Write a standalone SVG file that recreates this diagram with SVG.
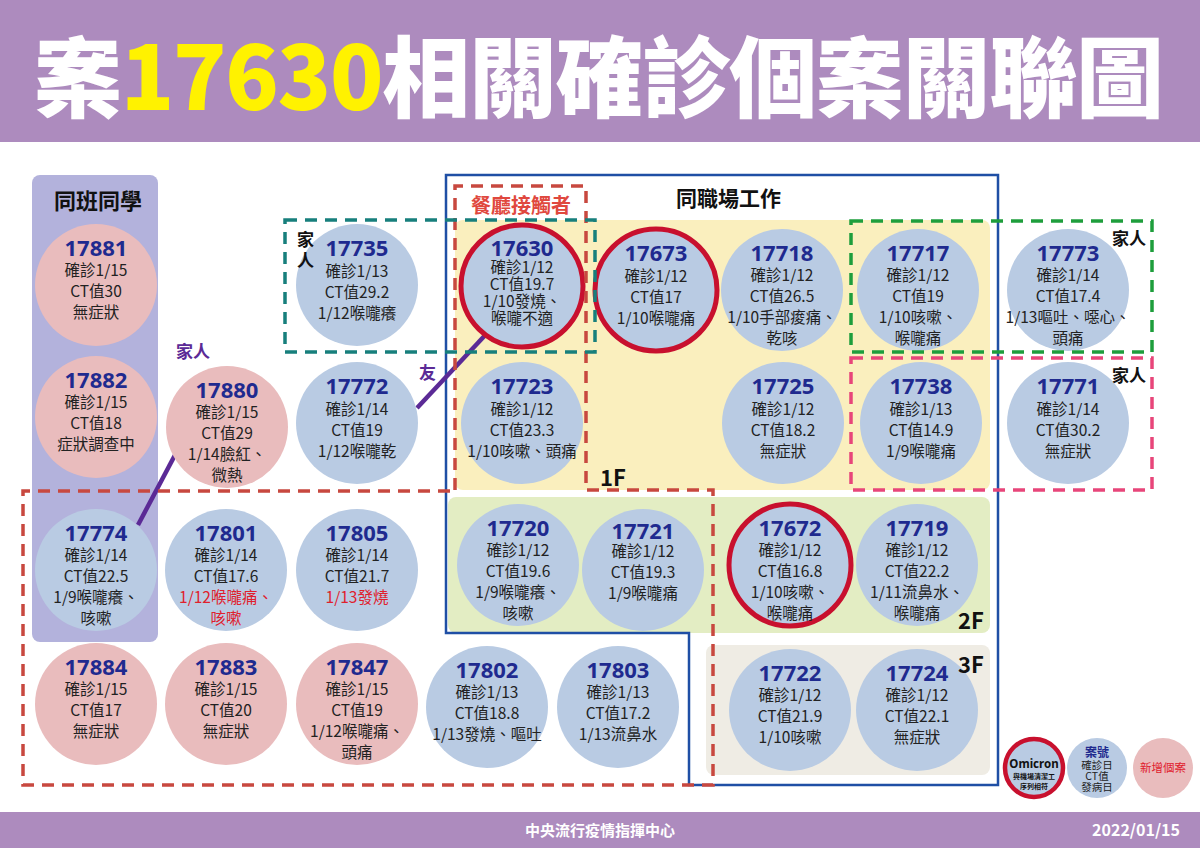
<svg xmlns="http://www.w3.org/2000/svg" width="1200" height="848" viewBox="0 0 1200 848">
<style>
.t{font-family:"Noto Sans CJK TC","Noto Sans",sans-serif;}
.num{font-family:"Noto Sans","Noto Sans CJK TC",sans-serif;font-weight:700;font-size:22px;fill:#1f2a8f;}
.b{font-family:"Noto Sans CJK TC","Noto Sans",sans-serif;font-size:15.5px;fill:#222;text-anchor:middle;}
.r{fill:#e0202c;}
.blue{fill:#b9cbe3;}
.pink{fill:#e9bcbd;}
.ring{fill:#b9cbe3;stroke:#c8102e;stroke-width:5;}
.lbl{font-family:"Noto Sans CJK TC",sans-serif;font-weight:700;fill:#111;}
.dash{fill:none;stroke-width:3.5;stroke-dasharray:12 8;}
</style>
<rect width="1200" height="848" fill="#ffffff"/>
<g id="header">
<rect x="0" y="0" width="1200" height="142" fill="#ad8bbe"/>
<text x="34" y="110" textLength="1130" class="t" font-size="88" font-weight="900" fill="#ffffff">案<tspan fill="#fff200">17630</tspan>相關確診個案關聯圖</text>
</g>
<g id="footer">
<rect x="0" y="812" width="1200" height="36" fill="#ad8bbe"/>
<text x="600" y="836" class="t" font-size="15" font-weight="700" fill="#fff" text-anchor="middle">中央流行疫情指揮中心</text>
<text x="1180" y="836" class="t" font-size="16" font-weight="700" fill="#fff" text-anchor="end">2022/01/15</text>
</g>
<g id="panels">
<rect x="32" y="175" width="126" height="467" rx="8" fill="#b3b2dc"/>
<text x="98" y="209" class="lbl" font-size="22" text-anchor="middle">同班同學</text>
<rect x="455" y="220" width="535" height="270" rx="8" fill="#faefbe"/>
<rect x="448" y="497" width="542" height="136" rx="8" fill="#e3edc3"/>
<rect x="706" y="645" width="284" height="130" rx="8" fill="#efece4"/>
<path d="M446 175 H998 V785 H689 V633 H446 Z" fill="none" stroke="#1f4fa5" stroke-width="2.5"/>
<text x="676" y="206" class="lbl" font-size="21">同職場工作</text>
</g>
<g id="connectors" stroke="#5b2a96" stroke-width="4.5" fill="none">
<line x1="175" y1="455" x2="138" y2="525"/>
<line x1="417" y1="408" x2="490" y2="330"/>
</g>
<g id="nodes">
<g id="n17881"><circle cx="96" cy="285" r="61" class="pink"/><text class="b"><tspan class="num" x="96" y="256">17881</tspan><tspan x="96" y="276">確診1/15</tspan><tspan x="96" y="297">CT值30</tspan><tspan x="96" y="318">無症狀</tspan></text></g>
<g id="n17882"><circle cx="96" cy="417" r="61" class="pink"/><text class="b"><tspan class="num" x="96" y="388">17882</tspan><tspan x="96" y="408">確診1/15</tspan><tspan x="96" y="429">CT值18</tspan><tspan x="96" y="450">症狀調查中</tspan></text></g>
<g id="n17880"><circle cx="227" cy="427" r="61" class="pink"/><text class="b"><tspan class="num" x="227" y="398">17880</tspan><tspan x="227" y="418">確診1/15</tspan><tspan x="227" y="439">CT值29</tspan><tspan x="227" y="460">1/14臉紅、</tspan><tspan x="227" y="481">微熱</tspan></text></g>
<g id="n17735"><circle cx="357" cy="285" r="61" class="blue"/><text class="b"><tspan class="num" x="357" y="256">17735</tspan><tspan x="357" y="277">確診1/13</tspan><tspan x="357" y="298">CT值29.2</tspan><tspan x="357" y="319">1/12喉嚨癢</tspan></text></g>
<g id="n17772"><circle cx="357" cy="423" r="61" class="blue"/><text class="b"><tspan class="num" x="357" y="394">17772</tspan><tspan x="357" y="415">確診1/14</tspan><tspan x="357" y="436">CT值19</tspan><tspan x="357" y="457">1/12喉嚨乾</tspan></text></g>
<g id="n17630"><circle cx="522" cy="286" r="61" class="ring"/><text class="b"><tspan class="num" x="522" y="256">17630</tspan><tspan x="522" y="273">確診1/12</tspan><tspan x="522" y="290">CT值19.7</tspan><tspan x="522" y="307">1/10發燒、</tspan><tspan x="522" y="324">喉嚨不適</tspan></text></g>
<g id="n17673"><circle cx="656" cy="290" r="61" class="ring"/><text class="b"><tspan class="num" x="656" y="261">17673</tspan><tspan x="656" y="282">確診1/12</tspan><tspan x="656" y="303">CT值17</tspan><tspan x="656" y="324">1/10喉嚨痛</tspan></text></g>
<g id="n17718"><circle cx="782" cy="290" r="61" class="blue"/><text class="b"><tspan class="num" x="782" y="261">17718</tspan><tspan x="782" y="281">確診1/12</tspan><tspan x="782" y="302">CT值26.5</tspan><tspan x="782" y="323">1/10手部痠痛、</tspan><tspan x="782" y="344">乾咳</tspan></text></g>
<g id="n17717"><circle cx="918" cy="290" r="61" class="blue"/><text class="b"><tspan class="num" x="918" y="261">17717</tspan><tspan x="918" y="281">確診1/12</tspan><tspan x="918" y="302">CT值19</tspan><tspan x="918" y="323">1/10咳嗽、</tspan><tspan x="918" y="344">喉嚨痛</tspan></text></g>
<g id="n17773"><circle cx="1068" cy="290" r="61" class="blue"/><text class="b"><tspan class="num" x="1068" y="261">17773</tspan><tspan x="1068" y="281">確診1/14</tspan><tspan x="1068" y="302">CT值17.4</tspan><tspan x="1068" y="323">1/13嘔吐、噁心、</tspan><tspan x="1068" y="344">頭痛</tspan></text></g>
<g id="n17723"><circle cx="522" cy="423" r="61" class="blue"/><text class="b"><tspan class="num" x="522" y="394">17723</tspan><tspan x="522" y="415">確診1/12</tspan><tspan x="522" y="436">CT值23.3</tspan><tspan x="522" y="457">1/10咳嗽、頭痛</tspan></text></g>
<g id="n17725"><circle cx="783" cy="423" r="61" class="blue"/><text class="b"><tspan class="num" x="783" y="394">17725</tspan><tspan x="783" y="415">確診1/12</tspan><tspan x="783" y="436">CT值18.2</tspan><tspan x="783" y="457">無症狀</tspan></text></g>
<g id="n17738"><circle cx="921" cy="423" r="61" class="blue"/><text class="b"><tspan class="num" x="921" y="394">17738</tspan><tspan x="921" y="415">確診1/13</tspan><tspan x="921" y="436">CT值14.9</tspan><tspan x="921" y="457">1/9喉嚨痛</tspan></text></g>
<g id="n17771"><circle cx="1068" cy="423" r="61" class="blue"/><text class="b"><tspan class="num" x="1068" y="394">17771</tspan><tspan x="1068" y="415">確診1/14</tspan><tspan x="1068" y="436">CT值30.2</tspan><tspan x="1068" y="457">無症狀</tspan></text></g>
<g id="n17774"><circle cx="96" cy="570" r="61" class="blue"/><text class="b"><tspan class="num" x="96" y="541">17774</tspan><tspan x="96" y="561">確診1/14</tspan><tspan x="96" y="582">CT值22.5</tspan><tspan x="96" y="603">1/9喉嚨癢、</tspan><tspan x="96" y="624">咳嗽</tspan></text></g>
<g id="n17801"><circle cx="226" cy="570" r="61" class="blue"/><text class="b"><tspan class="num" x="226" y="541">17801</tspan><tspan x="226" y="561">確診1/14</tspan><tspan x="226" y="582">CT值17.6</tspan><tspan x="226" y="603" class="r">1/12喉嚨痛、</tspan><tspan x="226" y="624" class="r">咳嗽</tspan></text></g>
<g id="n17805"><circle cx="357" cy="570" r="61" class="blue"/><text class="b"><tspan class="num" x="357" y="541">17805</tspan><tspan x="357" y="561">確診1/14</tspan><tspan x="357" y="582">CT值21.7</tspan><tspan x="357" y="603" class="r">1/13發燒</tspan></text></g>
<g id="n17720"><circle cx="518" cy="565" r="61" class="blue"/><text class="b"><tspan class="num" x="518" y="536">17720</tspan><tspan x="518" y="556">確診1/12</tspan><tspan x="518" y="577">CT值19.6</tspan><tspan x="518" y="598">1/9喉嚨癢、</tspan><tspan x="518" y="619">咳嗽</tspan></text></g>
<g id="n17721"><circle cx="643" cy="570" r="61" class="blue"/><text class="b"><tspan class="num" x="643" y="539">17721</tspan><tspan x="643" y="557">確診1/12</tspan><tspan x="643" y="578">CT值19.3</tspan><tspan x="643" y="599">1/9喉嚨痛</tspan></text></g>
<g id="n17672"><circle cx="790" cy="565" r="61" class="ring"/><text class="b"><tspan class="num" x="790" y="536">17672</tspan><tspan x="790" y="556">確診1/12</tspan><tspan x="790" y="577">CT值16.8</tspan><tspan x="790" y="598">1/10咳嗽、</tspan><tspan x="790" y="619">喉嚨痛</tspan></text></g>
<g id="n17719"><circle cx="917" cy="565" r="61" class="blue"/><text class="b"><tspan class="num" x="917" y="536">17719</tspan><tspan x="917" y="556">確診1/12</tspan><tspan x="917" y="577">CT值22.2</tspan><tspan x="917" y="598">1/11流鼻水、</tspan><tspan x="917" y="619">喉嚨痛</tspan></text></g>
<g id="n17884"><circle cx="96" cy="704" r="61" class="pink"/><text class="b"><tspan class="num" x="96" y="675">17884</tspan><tspan x="96" y="695">確診1/15</tspan><tspan x="96" y="716">CT值17</tspan><tspan x="96" y="737">無症狀</tspan></text></g>
<g id="n17883"><circle cx="226" cy="704" r="61" class="pink"/><text class="b"><tspan class="num" x="226" y="675">17883</tspan><tspan x="226" y="695">確診1/15</tspan><tspan x="226" y="716">CT值20</tspan><tspan x="226" y="737">無症狀</tspan></text></g>
<g id="n17847"><circle cx="357" cy="704" r="61" class="pink"/><text class="b"><tspan class="num" x="357" y="675">17847</tspan><tspan x="357" y="695">確診1/15</tspan><tspan x="357" y="716">CT值19</tspan><tspan x="357" y="737">1/12喉嚨痛、</tspan><tspan x="357" y="758">頭痛</tspan></text></g>
<g id="n17802"><circle cx="487" cy="707" r="61" class="blue"/><text class="b"><tspan class="num" x="487" y="678">17802</tspan><tspan x="487" y="698">確診1/13</tspan><tspan x="487" y="719">CT值18.8</tspan><tspan x="487" y="740">1/13發燒、嘔吐</tspan></text></g>
<g id="n17803"><circle cx="618" cy="707" r="61" class="blue"/><text class="b"><tspan class="num" x="618" y="678">17803</tspan><tspan x="618" y="698">確診1/13</tspan><tspan x="618" y="719">CT值17.2</tspan><tspan x="618" y="740">1/13流鼻水</tspan></text></g>
<g id="n17722"><circle cx="790" cy="710" r="61" class="blue"/><text class="b"><tspan class="num" x="790" y="681">17722</tspan><tspan x="790" y="701">確診1/12</tspan><tspan x="790" y="722">CT值21.9</tspan><tspan x="790" y="743">1/10咳嗽</tspan></text></g>
<g id="n17724"><circle cx="917" cy="710" r="61" class="blue"/><text class="b"><tspan class="num" x="917" y="681">17724</tspan><tspan x="917" y="701">確診1/12</tspan><tspan x="917" y="722">CT值22.1</tspan><tspan x="917" y="743">無症狀</tspan></text></g>
</g>
<g id="floors">
<text x="600" y="486" class="lbl" font-size="22">1F</text>
<text x="958" y="629" class="lbl" font-size="22">2F</text>
<text x="958" y="673" class="lbl" font-size="22">3F</text>
</g>
<g id="groups">
<path d="M455 490 V186 H586 V490 H713 V785 H23 V491 H455" class="dash" stroke="#c8483f"/>
<text x="521" y="213" class="lbl" font-size="20" text-anchor="middle" style="fill:#e0483e">餐廳接觸者</text>
<rect x="285" y="220" width="310" height="132" class="dash" stroke="#177f7c" stroke-width="4" stroke-dasharray="14 9"/>
<text class="lbl" font-size="17"><tspan x="297" y="246">家</tspan><tspan x="297" y="267">人</tspan></text>
<rect x="851" y="221" width="301" height="131" class="dash" stroke="#1e9e3c" stroke-width="4" stroke-dasharray="13 9"/>
<text x="1112" y="245" class="lbl" font-size="17">家人</text>
<rect x="851" y="358" width="301" height="132" class="dash" stroke="#e8457a" stroke-width="4" stroke-dasharray="13 9"/>
<text x="1112" y="382" class="lbl" font-size="17">家人</text>
<text x="176" y="358" class="lbl" font-size="17" style="fill:#5b2a96">家人</text>
<text x="419" y="379" class="lbl" font-size="17" style="fill:#5b2a96">友</text>
</g>
<g id="legend">
<circle cx="1034" cy="768" r="29" fill="#b9cbe3" stroke="#c8102e" stroke-width="4.5"/>
<text class="t" font-weight="700" fill="#111" text-anchor="middle"><tspan x="1034" y="768" font-family="Noto Sans,sans-serif" font-size="11.5">Omicron</tspan><tspan x="1034" y="779" font-size="7">與機場清潔工</tspan><tspan x="1034" y="789" font-size="7">序列相符</tspan></text>
<circle cx="1097" cy="768" r="30" fill="#b9cbe3"/>
<text class="t" font-size="10.5" fill="#222" text-anchor="middle"><tspan x="1097" y="757" font-size="12" font-weight="700" fill="#1f2a8f">案號</tspan><tspan x="1097" y="769">確診日</tspan><tspan x="1097" y="780">CT值</tspan><tspan x="1097" y="791">發病日</tspan></text>
<circle cx="1163" cy="768" r="30" fill="#e9bcbd"/>
<text x="1163" y="772" class="t" font-size="11.5" fill="#e0202c" text-anchor="middle">新增個案</text>
</g>
</svg>
